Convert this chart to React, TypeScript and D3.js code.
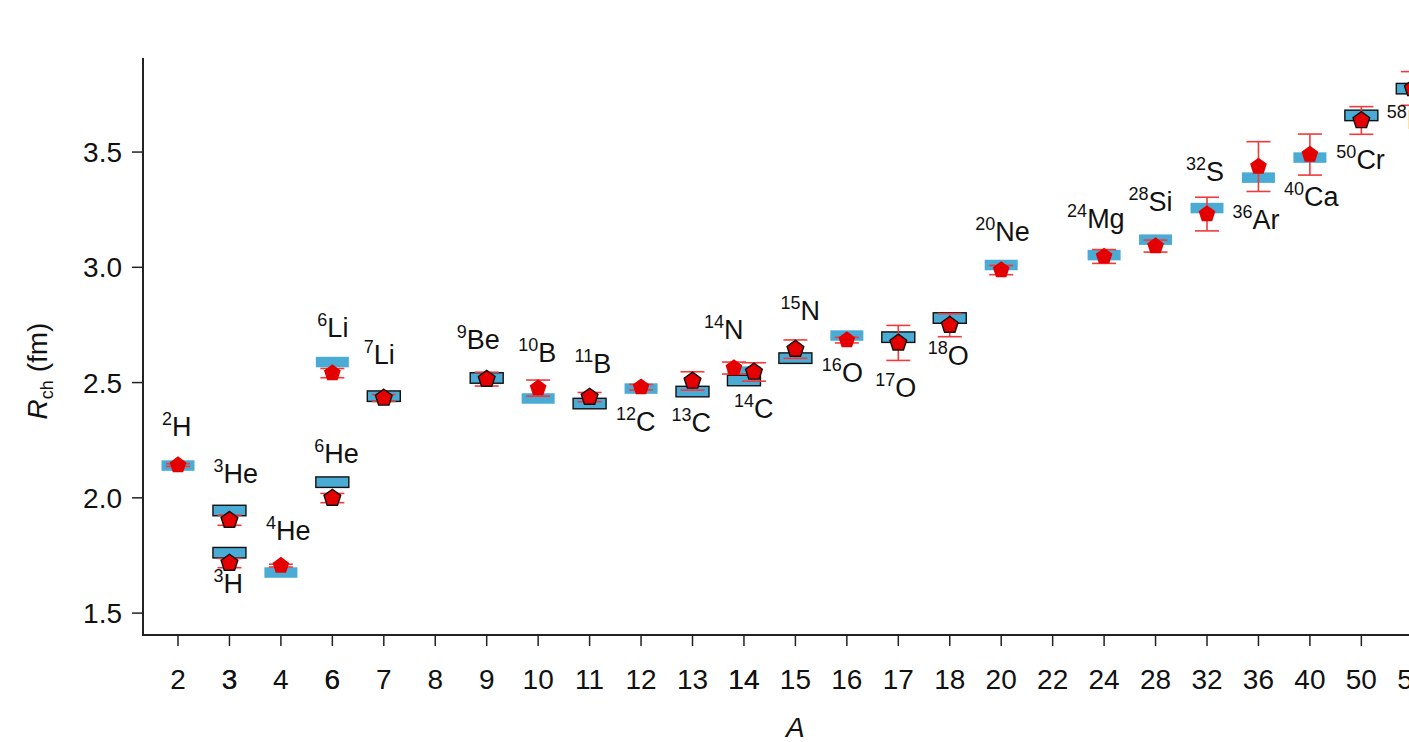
import React from "react";
import * as d3 from "d3";

// Mass-number categories along the x axis (evenly spaced, not proportional)
const massTicks = ["2", "3", "4", "6", "7", "8", "9", "10", "11", "12", "13", "14", "15", "16", "17", "18", "20", "22", "24", "28", "32", "36", "40", "50", "58"];
const radiusTicks = [1.5, 2.0, 2.5, 3.0, 3.5];

// Nuclides, in drawing order
const nuclideMass = [2, 3, 3, 4, 6, 6, 7, 9, 10, 11, 12, 13, 14, 14, 15, 16, 17, 18, 20, 24, 28, 32, 36, 40, 50, 58];
const nuclideElement = ["H", "He", "H", "He", "He", "Li", "Li", "Be", "B", "B", "C", "C", "N", "C", "N", "O", "O", "O", "Ne", "Mg", "Si", "S", "Ar", "Ca", "Cr", "Ni"];

// Calculated charge radii (fm) – blue boxes
const calcRadius = [2.140, 1.945, 1.762, 1.676, 2.068, 2.589, 2.441, 2.520, 2.431, 2.409, 2.474, 2.461, 2.548, 2.509, 2.606, 2.704, 2.697, 2.780, 3.010, 3.053, 3.120, 3.257, 3.389, 3.476, 3.659, 3.775];
// Measured charge radii (fm) and their uncertainties – red pentagons
const measRadius = [2.142, 1.903, 1.717, 1.706, 1.999, 2.541, 2.433, 2.515, 2.476, 2.437, 2.480, 2.507, 2.563, 2.546, 2.645, 2.684, 2.672, 2.749, 2.988, 3.047, 3.092, 3.231, 3.437, 3.489, 3.637, 3.776];
const measError = [0.006, 0.022, 0.02, 0.006, 0.02, 0.02, 0.015, 0.03, 0.035, 0.02, 0.012, 0.04, 0.026, 0.04, 0.04, 0.012, 0.076, 0.05, 0.02, 0.03, 0.026, 0.073, 0.108, 0.089, 0.06, 0.073];
// Nuclides drawn with black edges
const edged = [false, true, true, false, true, false, true, true, false, true, false, true, false, true, true, false, true, true, false, false, false, false, false, false, true, true];

// Label placement: start x / baseline y relative to the box centre
const labelDx = [-16, -16, -16, -15, -18, -15, -20, -30, -20, -15, -25, -21, -40, -10, -15, -25, -23, -22, -26, -37, -27, -21, -26, -26, -25, -26];
const labelDy = [-30, -28, 40, -33, -19, -25, -32, -29, -36, -31, 42, 40, -33, 37, -38, 46, 60, 47, -24, -27, -29, -27, 51, 48, 54, 40];
// Horizontal nudge of the pentagons that share a column
const markerDx = [0, 0, 0, 0, 0, 0, 0, 0, 0, 0, 0, 0, -10, 10, 0, 0, 0, 0, 0, 0, 0, 0, 0, 0, 0, 0];

const W = 1409;
const H = 742;
const FONT = "'Liberation Sans', Arial, Helvetica, sans-serif";
const BLUE = "#4aabd5";
const RED = "#e40000";
const BAR = "#ef3b3b";
const INK = "#111";

const TICK_FS = 28;
const LABEL_FS = 27;
const SUP_FS = 18;

const x = d3.scalePoint<string>().domain(massTicks).range([178, 178 + 51.45 * (massTicks.length - 1)]);
const y = d3.scaleLinear().domain([1.405, 3.908]).range([635, 58]);

const PENT_R = 8.8;
const pentagon = (() => {
  const pts = d3.range(5).map((k) => {
    const a = (-90 + k * 72) * (Math.PI / 180);
    return [PENT_R * Math.cos(a), PENT_R * Math.sin(a)] as [number, number];
  });
  return d3.line()(pts) + "Z";
})();

const BOX_W = 33;
const BOX_H = 10.5;
const CAP = 12;

export default function App() {
  const [yMin, yMax] = y.domain();
  const left = 143;
  const bottom = y(yMin);
  const idx = d3.range(nuclideMass.length);
  const col = (i: number) => x(String(nuclideMass[i])) as number;

  return (
    <svg width={W} height={H} style={{ position: "absolute", left: 0, top: 0, background: "#fff" }} fontFamily={FONT}>
      <rect width={W} height={H} fill="#fff" />

      {/* boxes */}
      {idx.map((i) => (
        <rect
          key={"b" + i}
          x={col(i) - BOX_W / 2}
          y={y(calcRadius[i]) - BOX_H / 2}
          width={BOX_W}
          height={BOX_H}
          fill={BLUE}
          stroke={edged[i] ? INK : "none"}
          strokeWidth={1.4}
        />
      ))}

      {/* error bars */}
      {idx.map((i) => {
        const cx = col(i) + markerDx[i];
        const y1 = y(measRadius[i] + measError[i]);
        const y2 = y(measRadius[i] - measError[i]);
        return (
          <g key={"e" + i} stroke={BAR} strokeWidth={1.6}>
            <line x1={cx} x2={cx} y1={y1} y2={y2} />
            <line x1={cx - CAP} x2={cx + CAP} y1={y1} y2={y1} />
            <line x1={cx - CAP} x2={cx + CAP} y1={y2} y2={y2} />
          </g>
        );
      })}

      {/* pentagons */}
      {idx.map((i) => (
        <path
          key={"m" + i}
          d={pentagon}
          transform={`translate(${col(i) + markerDx[i]},${y(measRadius[i])})`}
          fill={RED}
          stroke={edged[i] ? INK : "none"}
          strokeWidth={1.4}
        />
      ))}

      {/* nuclide labels */}
      {idx.map((i) => (
        <text key={"l" + i} x={col(i) + labelDx[i]} y={y(calcRadius[i]) + labelDy[i]} fontSize={LABEL_FS} fill={INK}>
          <tspan fontSize={SUP_FS} dy={-11}>{nuclideMass[i]}</tspan>
          <tspan dy={11}>{nuclideElement[i]}</tspan>
        </text>
      ))}

      {/* axes */}
      <line x1={left} x2={left} y1={y(yMax)} y2={bottom} stroke="#222" strokeWidth={2} />
      <line x1={left - 1} x2={W + 10} y1={bottom} y2={bottom} stroke="#222" strokeWidth={2} />

      {radiusTicks.map((t) => (
        <g key={"yt" + t}>
          <line x1={left - 11} x2={left} y1={y(t)} y2={y(t)} stroke="#222" strokeWidth={1.5} />
          <text x={left - 21} y={y(t) + 10} textAnchor="end" fontSize={TICK_FS} fill={INK}>
            {t.toFixed(1)}
          </text>
        </g>
      ))}

      {massTicks.map((m) => (
        <g key={"xt" + m}>
          <line x1={x(m)} x2={x(m)} y1={bottom} y2={bottom + 11} stroke="#222" strokeWidth={1.5} />
          <text x={x(m)} y={bottom + 54} textAnchor="middle" fontSize={TICK_FS} fill={INK}>
            {m}
          </text>
        </g>
      ))}
      {/* columns holding two nuclides get their tick label printed once more */}
      {massTicks
        .filter((m) => nuclideMass.filter((a) => String(a) === m).length > 1)
        .map((m) => (
          <text key={"xt2" + m} x={x(m)} y={bottom + 54} textAnchor="middle" fontSize={TICK_FS} fill={INK}>
            {m}
          </text>
        ))}

      {/* axis titles */}
      <text x={x("15")} y={737} textAnchor="middle" fontSize={28} fontStyle="italic" fill={INK}>
        A
      </text>
      <text transform="translate(47,371) rotate(-90)" textAnchor="middle" fontSize={28} fill={INK}>
        <tspan fontStyle="italic">R</tspan>
        <tspan fontSize={18} dy={6}>ch</tspan>
        <tspan dy={-6}> (fm)</tspan>
      </text>
    </svg>
  );
}
